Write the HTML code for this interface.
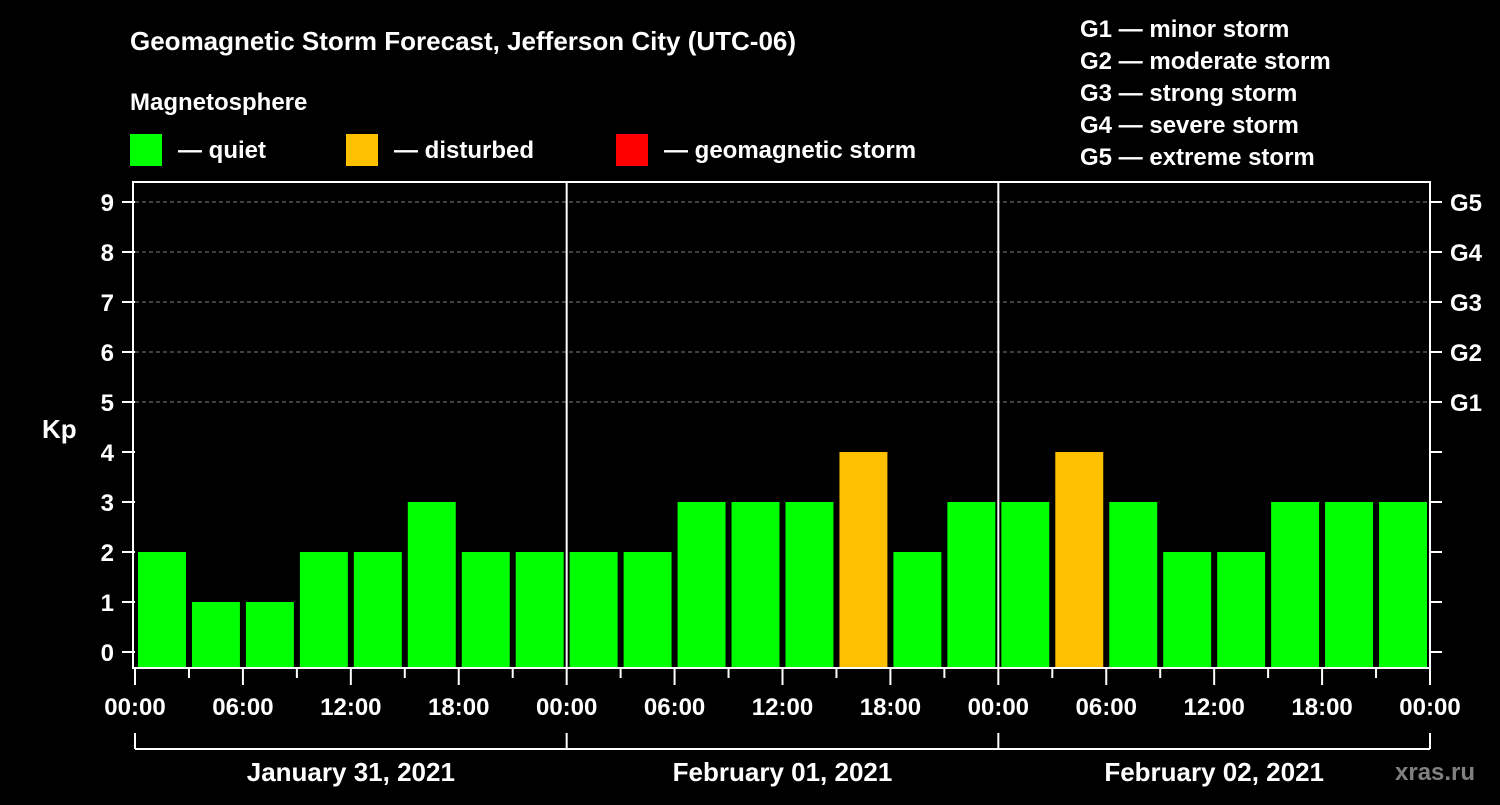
<!DOCTYPE html>
<html><head><meta charset="utf-8"><style>
body{margin:0;background:#000;width:1500px;height:800px;overflow:hidden}
svg text{font-family:"Liberation Sans",Arial,sans-serif;font-weight:bold;fill:#fff}
</style></head><body>
<svg width="1500" height="800" id="c">
<text x="130" y="50" font-size="26">Geomagnetic Storm Forecast, Jefferson City (UTC-06)</text>
<text x="130" y="110" font-size="24">Magnetosphere</text>
<g><rect x="130" y="134" width="32" height="32" fill="#00ff00"/><text x="178" y="158" font-size="24">— quiet</text></g>
<g><rect x="346" y="134" width="32" height="32" fill="#ffc000"/><text x="394" y="158" font-size="24">— disturbed</text></g>
<g><rect x="616" y="134" width="32" height="32" fill="#ff0000"/><text x="664" y="158" font-size="24">— geomagnetic storm</text></g>
<g font-size="24">
<text x="1080" y="37">G1 — minor storm</text>
<text x="1080" y="69">G2 — moderate storm</text>
<text x="1080" y="101">G3 — strong storm</text>
<text x="1080" y="133">G4 — severe storm</text>
<text x="1080" y="165">G5 — extreme storm</text>
</g>
<text x="42" y="438" font-size="26">Kp</text>
<text x="1395" y="780" font-size="24" style="fill:#808080">xras.ru</text>
<g id="bars"></g><g id="axes"></g>
</svg>
<script>
const kpValues=[2,1,1,2,2,3,2,2, 2,2,3,3,3,4,2,3, 3,4,3,2,2,3,3,3];
const hourLabels=["00:00","06:00","12:00","18:00","00:00","06:00","12:00","18:00","00:00","06:00","12:00","18:00","00:00"];
const dayLabels=["January 31, 2021","February 01, 2021","February 02, 2021"];
const yTicks=[0,1,2,3,4,5,6,7,8,9];
const gLabels=["G1","G2","G3","G4","G5"];
const NS="http://www.w3.org/2000/svg";
const X0=135,X1=1430,YT=182,YB=668;
const slot=(X1-X0)/kpValues.length;
const y=v=>652-v*50;
const x=i=>X0+i*slot;
function mk(t,a,p){const e=document.createElementNS(NS,t);for(const k in a)e.setAttribute(k,a[k]);p.appendChild(e);return e;}
const bars=document.getElementById('bars'),ax=document.getElementById('axes');
yTicks.forEach(v=>{if(v>=5){const g=mk('line',{x1:X0,x2:X1,y1:y(v),y2:y(v),stroke:'#808080','stroke-dasharray':'4,3','stroke-width':1},ax);}});
kpValues.forEach((v,i)=>{const r=mk('rect',{x:x(i)+3,y:y(v),width:slot-6,height:YB-y(v),fill:v>=5?'#ff0000':(v>=4?'#ffc000':'#00ff00')},bars);

});
mk('rect',{x:X0-2,y:YT,width:X1-X0+2,height:YB-YT,fill:'none',stroke:'#fff','stroke-width':2},ax);
yTicks.forEach(v=>{mk('line',{x1:122,x2:X0,y1:y(v),y2:y(v),stroke:'#fff','stroke-width':2},ax);mk('line',{x1:X1,x2:X1+12,y1:y(v),y2:y(v),stroke:'#fff','stroke-width':2},ax);
const t=mk('text',{x:114,y:y(v)+9,'font-size':24,'text-anchor':'end'},ax);t.textContent=v;


if(v>=5){const g=mk('text',{x:1450,y:y(v)+9,'font-size':24},ax);g.textContent=gLabels[v-5];

}});
for(let d=1;d<dayLabels.length;d++){mk('line',{x1:x(d*8),x2:x(d*8),y1:YT,y2:YB,stroke:'#fff','stroke-width':2},ax);}
for(let i=0;i<=kpValues.length;i++){const major=i%2==0;mk('line',{x1:x(i),x2:x(i),y1:YB,y2:major?685:678,stroke:'#fff','stroke-width':2},ax);
if(major){const t=mk('text',{x:x(i),y:715,'font-size':24,'text-anchor':'middle'},ax);t.textContent=hourLabels[i/2];

}}
mk('line',{x1:X0,x2:X1,y1:749,y2:749,stroke:'#fff','stroke-width':2},ax);
for(let d=0;d<=dayLabels.length;d++)mk('line',{x1:x(d*8),x2:x(d*8),y1:733,y2:749,stroke:'#fff','stroke-width':2},ax);
dayLabels.forEach((s,d)=>{const t=mk('text',{x:(x(d*8)+x(d*8+8))/2,y:781,'font-size':26,'text-anchor':'middle'},ax);t.textContent=s;

});
</script>
</body></html>
